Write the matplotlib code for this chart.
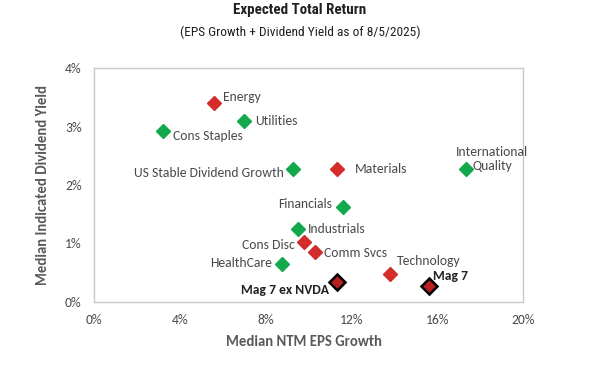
import matplotlib.pyplot as plt

# data (percent)
names = ['Energy', 'Utilities', 'Cons Staples', 'US Stable Dividend Growth',
         'Materials', 'International\nQuality', 'Financials', 'Industrials',
         'Cons Disc', 'Comm Svcs', 'HealthCare', 'Technology',
         'Mag 7 ex NVDA', 'Mag 7']
eps_growth = [5.6, 7.0, 3.2, 9.25, 11.3, 17.35, 11.6, 9.5, 9.8, 10.3, 8.75, 13.8, 11.3, 15.6]
div_yield = [3.41, 3.10, 2.93, 2.28, 2.28, 2.28, 1.63, 1.24, 1.03, 0.85, 0.65, 0.47, 0.34, 0.27]
groups = ['r', 'g', 'g', 'g', 'r', 'g', 'g', 'g', 'r', 'r', 'g', 'r', 'm', 'm']

x_ticks = [0, 4, 8, 12, 16, 20]
y_ticks = [0, 1, 2, 3, 4]

# label offsets in pixels and alignment
label_pos = {
    'Energy': (9, 6, 'left'),
    'Utilities': (11, 0, 'left'),
    'Cons Staples': (10, -5, 'left'),
    'US Stable Dividend Growth': (-9, -4, 'right'),
    'Materials': (18, 0, 'left'),
    'International\nQuality': (26, 10, 'center'),
    'Financials': (-11, 3, 'right'),
    'Industrials': (10, 0, 'left'),
    'Cons Disc': (-10, -3, 'right'),
    'Comm Svcs': (9, -1, 'left'),
    'HealthCare': (-10, 1, 'right'),
    'Technology': (7, 13, 'left'),
    'Mag 7 ex NVDA': (-8, -8, 'right'),
    'Mag 7': (4, 10, 'left'),
}

narrow = ['Roboto Condensed', 'Archivo Narrow', 'DejaVu Sans']
body = ['Carlito', 'Open Sans']

green = '#12a84b'
red = '#d42b2b'
dark_red = '#b8201f'
txt = '#4a4a4a'

fig = plt.figure(figsize=(6, 3.73), dpi=100)
ax = fig.add_axes([0.157, 0.191, 0.715, 0.626])

for x, y, g, n in zip(eps_growth, div_yield, groups, names):
    if g == 'm':
        ax.plot(x, y, marker='D', ms=8, mfc=dark_red, mec='black', mew=1.8, ls='none', zorder=3)
    else:
        ax.plot(x, y, marker='D', ms=7.5, color=green if g == 'g' else red, ls='none', zorder=3)
    dx, dy, ha = label_pos[n]
    ax.annotate(n, (x, y), xytext=(dx, dy), textcoords='offset pixels',
                ha=ha, va='center', fontsize=9.8, color=txt if g != 'm' else '#222222',
                fontweight='bold' if g == 'm' else 'normal',
                family=body, annotation_clip=False, multialignment='center')

ax.set_xlim(0, 20)
ax.set_ylim(0, 4)
ax.set_xticks(x_ticks)
ax.set_xticklabels([f'{t}%' for t in x_ticks], family=body, fontsize=9.8, color=txt)
ax.set_yticks(y_ticks)
ax.set_yticklabels([f'{t}%' for t in y_ticks], family=body, fontsize=9.8, color=txt)
ax.tick_params(length=0, pad=9)
for s in ax.spines.values():
    s.set_color('#c8c8c8')
    s.set_linewidth(1.0)

fig.text(0.507, 0.084, 'Median NTM EPS Growth', ha='center', va='center',
         fontsize=10.6, fontweight='bold', color='#595959', family=body)
fig.text(0.071, 0.504, 'Median Indicated Dividend Yield', ha='center', va='center',
         rotation=90, fontsize=10.6, fontweight='bold', color='#595959', family=body)

fig.text(0.5, 0.972, 'Expected Total Return', ha='center', va='center',
         fontsize=10.8, fontweight='bold', color='#231f20', family=narrow)
fig.text(0.5, 0.913, '(EPS Growth + Dividend Yield as of 8/5/2025)', ha='center', va='center',
         fontsize=9.6, color='#231f20', family=narrow)

fig.savefig('out.png', dpi=100)
